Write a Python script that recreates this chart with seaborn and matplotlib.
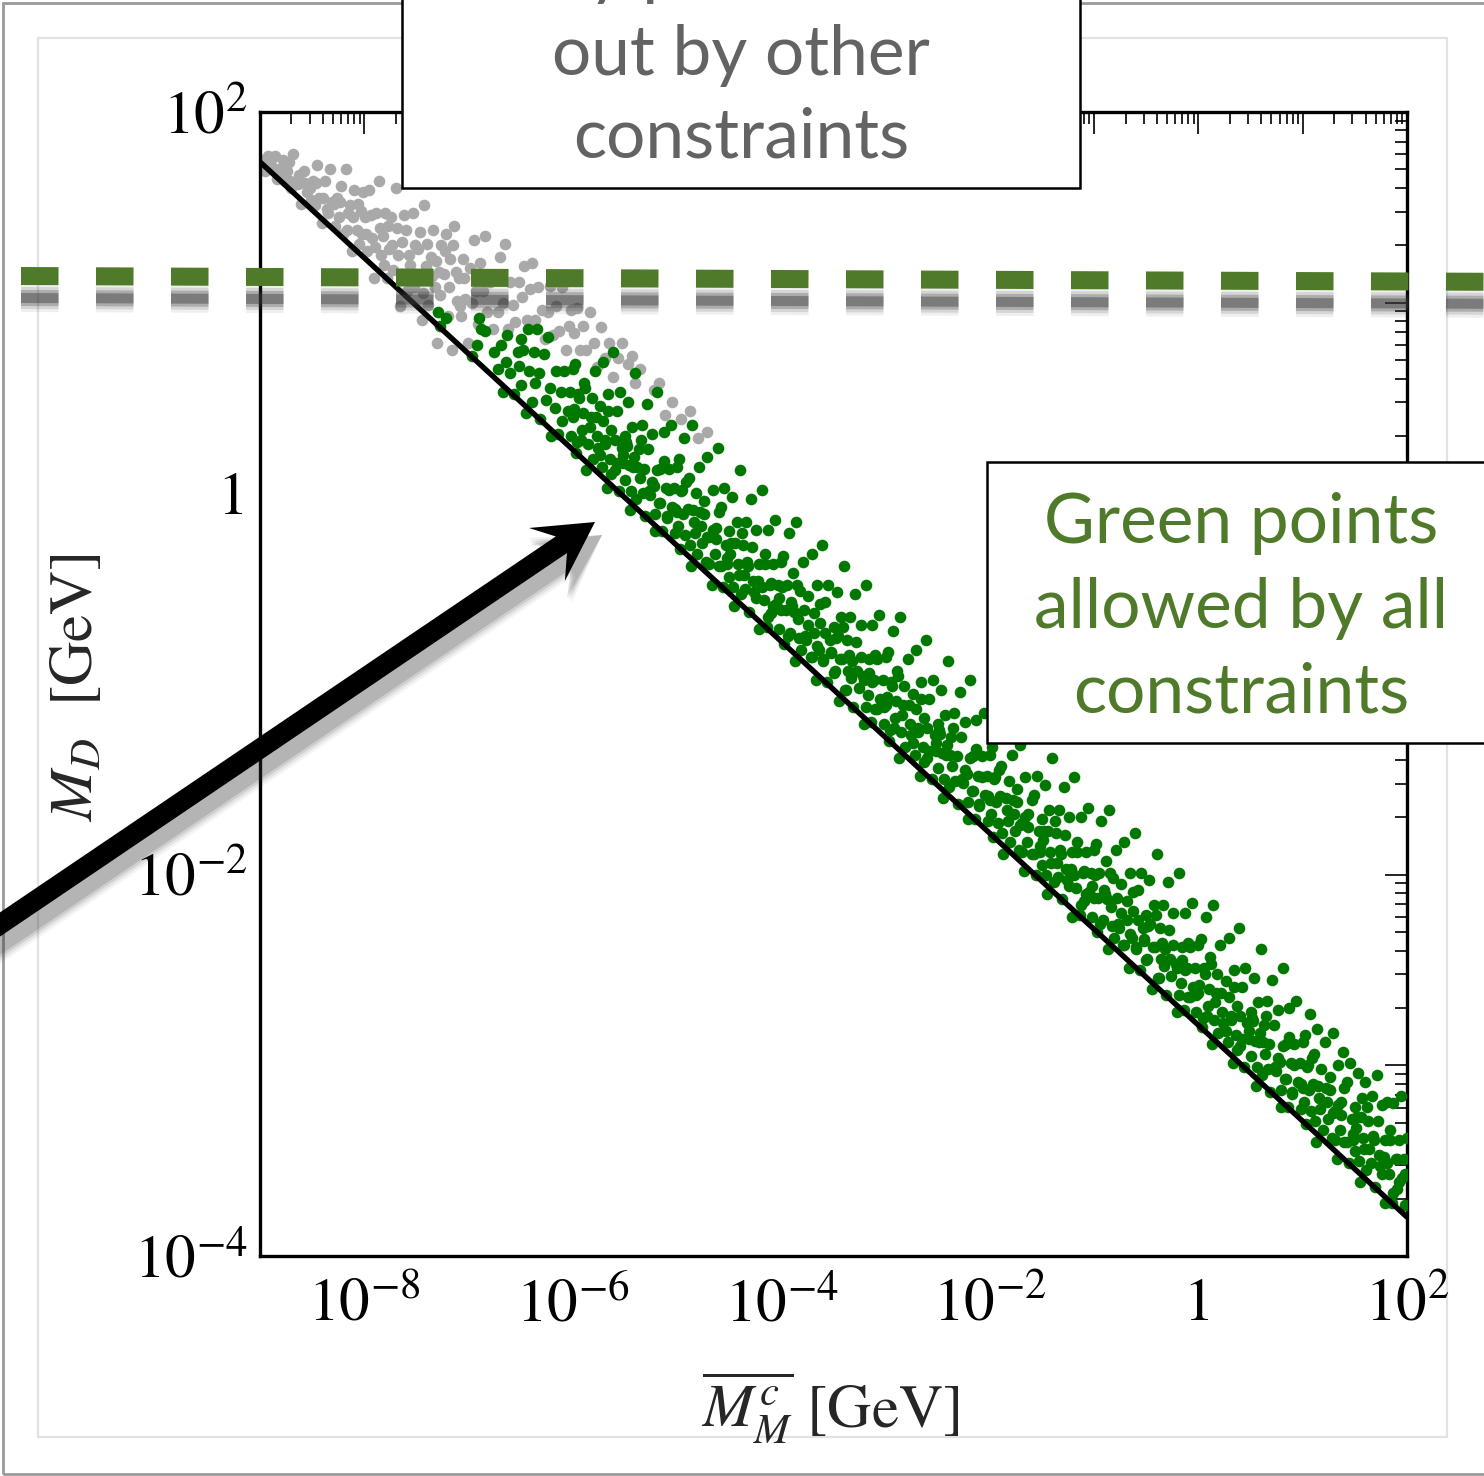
import numpy as np
import pandas as pd
import matplotlib
matplotlib.use("Agg")
import matplotlib.pyplot as plt
import seaborn as sns
from matplotlib.lines import Line2D
from matplotlib.patches import Rectangle, FancyArrow
from matplotlib.transforms import IdentityTransform
from matplotlib.ticker import LogLocator, NullFormatter

W, H = 1484, 1476

# Scan points, stored as (log10 Mbar_M^c, log10 M_D)
gray_pts = [
    (-8.97, 1.75), (-8.95, 1.69), (-8.92, 1.77), (-8.89, 1.72), (-8.86, 1.77), (-8.84, 1.65), (-8.81, 1.70), (-8.78, 1.75), (-8.76, 1.64),
    (-8.74, 1.69), (-8.72, 1.74), (-8.70, 1.60), (-8.68, 1.78), (-8.66, 1.62), (-8.63, 1.67), (-8.61, 1.52), (-8.58, 1.69), (-8.55, 1.58), (-8.52, 1.60),
    (-8.49, 1.64), (-8.47, 1.51), (-8.45, 1.72), (-8.43, 1.55), (-8.41, 1.42), (-8.38, 1.64), (-8.36, 1.49), (-8.33, 1.70), (-8.31, 1.53), (-8.28, 1.40), (-8.26, 1.55),
    (-8.24, 1.45), (-8.22, 1.61), (-8.20, 1.36), (-8.18, 1.70), (-8.16, 1.47), (-8.14, 1.51), (-8.12, 1.27), (-8.10, 1.59), (-8.07, 1.38), (-8.05, 1.31), (-8.03, 1.48), (-8.01, 1.58),
    (-7.99, 1.45), (-7.97, 1.27), (-7.95, 1.59), (-7.93, 1.34), (-7.91, 1.13), (-7.89, 1.47), (-7.86, 1.64), (-7.84, 1.25), (-7.82, 1.35), (-7.80, 1.47), (-7.78, 1.13), (-7.76, 1.28),
    (-7.74, 1.45), (-7.72, 1.17), (-7.70, 1.60), (-7.68, 1.25), (-7.66, 0.98), (-7.64, 1.32), (-7.62, 1.46), (-7.59, 1.06), (-7.57, 1.25), (-7.55, 1.13), (-7.53, 1.47), (-7.51, 1.30),
    (-7.49, 1.12), (-7.47, 1.37), (-7.45, 0.91), (-7.43, 1.51), (-7.41, 1.19), (-7.39, 0.99), (-7.36, 1.24), (-7.34, 1.38), (-7.32, 1.08), (-7.30, 0.79), (-7.28, 1.16), (-7.26, 1.30),
    (-7.24, 1.15), (-7.22, 1.36), (-7.20, 0.93), (-7.18, 1.23), (-7.16, 0.75), (-7.14, 1.40), (-7.11, 1.01), (-7.09, 1.13), (-7.07, 0.93), (-7.05, 1.23), (-7.03, 1.02), (-7.01, 0.79),
    (-6.99, 1.18), (-6.97, 1.00), (-6.95, 1.33), (-6.93, 1.06), (-6.91, 0.89), (-6.89, 1.21), (-6.86, 1.06), (-6.84, 1.35), (-6.82, 0.95), (-6.79, 1.11), (-6.77, 0.86),
    (-6.74, 1.12), (-6.72, 0.95), (-6.70, 1.24), (-6.67, 1.00), (-6.65, 1.31), (-6.62, 0.86), (-6.60, 1.11), (-6.57, 0.99), (-6.55, 0.90), (-6.52, 1.11),
    (-6.49, 1.03), (-6.47, 1.19), (-6.44, 0.91), (-6.41, 1.07), (-6.39, 1.21), (-6.36, 0.91), (-6.33, 1.08), (-6.30, 0.96), (-6.27, 0.81),
    (-6.24, 0.95), (-6.22, 1.09), (-6.19, 0.83), (-6.16, 0.98), (-6.13, 0.85), (-6.10, 1.08), (-6.07, 0.75), (-6.04, 0.88), (-6.02, 0.96),
    (-5.99, 0.84), (-5.96, 0.97), (-5.93, 0.75), (-5.90, 0.88), (-5.87, 0.75), (-5.84, 0.95), (-5.80, 0.79), (-5.77, 0.66),
    (-5.73, 0.87), (-5.69, 0.71), (-5.65, 0.79), (-5.61, 0.61), (-5.57, 0.71), (-5.53, 0.79),
    (-5.47, 0.68), (-5.43, 0.72), (-5.40, 0.58), (-5.36, 0.65),
    (-5.22, 0.54), (-5.17, 0.58), (-5.12, 0.41), (-5.05, 0.48),
    (-4.96, 0.39), (-4.88, 0.43), (-4.80, 0.29), (-4.71, 0.32),
    # denser core of the gray cloud
    (-8.99, 1.72), (-8.93, 1.72), (-8.87, 1.70), (-8.80, 1.67),
    (-8.71, 1.64), (-8.64, 1.62), (-8.57, 1.63), (-8.51, 1.54),
    (-8.46, 1.63), (-8.40, 1.55), (-8.35, 1.47), (-8.29, 1.52),
    (-8.23, 1.53), (-8.17, 1.38), (-8.11, 1.45), (-8.06, 1.52), (-8.02, 1.36),
    (-7.98, 1.36), (-7.94, 1.46), (-7.90, 1.29), (-7.85, 1.39), (-7.81, 1.20), (-7.77, 1.40),
    (-7.73, 1.30), (-7.69, 1.39), (-7.65, 1.15), (-7.60, 1.38), (-7.56, 1.20), (-7.52, 1.08),
    (-7.48, 1.28), (-7.44, 1.05), (-7.40, 1.31), (-7.35, 1.14), (-7.31, 1.22), (-7.27, 1.04),
    (-7.23, 1.27), (-7.19, 1.08), (-7.15, 1.30), (-7.12, 1.16), (-7.08, 0.98), (-7.04, 1.13),
]

green_pts = [
    (-7.29, 0.95), (-7.27, 0.88), (-7.22, 0.92),
    (-6.97, 0.72), (-6.92, 0.78), (-6.90, 0.92), (-6.88, 0.86), (-6.84, 0.85), (-6.76, 0.74),
    (-6.72, 0.65), (-6.69, 0.78), (-6.67, 0.53), (-6.64, 0.69), (-6.63, 0.83), (-6.60, 0.63), (-6.56, 0.52), (-6.53, 0.74), (-6.52, 0.67), (-6.50, 0.81),
    (-6.50, 0.57), (-6.48, 0.75), (-6.45, 0.42), (-6.43, 0.86), (-6.42, 0.64), (-6.39, 0.48), (-6.37, 0.74), (-6.36, 0.58), (-6.34, 0.86), (-6.32, 0.63), (-6.31, 0.39), (-6.28, 0.73), (-6.26, 0.49),
    (-6.24, 0.82), (-6.22, 0.55), (-6.21, 0.30), (-6.17, 0.45), (-6.16, 0.64), (-6.14, 0.31), (-6.11, 0.53), (-6.10, 0.38), (-6.08, 0.64), (-6.05, 0.43), (-6.03, 0.53), (-6.02, 0.30), (-6.00, 0.65),
    (-6.00, 0.40), (-5.98, 0.68), (-5.97, 0.21), (-5.95, 0.52), (-5.92, 0.28), (-5.90, 0.42), (-5.89, 0.58), (-5.87, 0.12), (-5.84, 0.35), (-5.82, 0.50), (-5.81, 0.18), (-5.79, 0.64), (-5.78, 0.40), (-5.76, 0.24),
    (-5.74, 0.46), (-5.72, 0.14), (-5.71, 0.69), (-5.69, 0.28), (-5.67, 0.03), (-5.66, 0.52), (-5.64, 0.18), (-5.63, 0.33), (-5.61, 0.74), (-5.60, 0.12), (-5.58, 0.43), (-5.56, 0.01), (-5.55, 0.53), (-5.53, 0.24), (-5.52, 0.16), (-5.50, 0.30),
    (-5.50, 0.07), (-5.48, 0.25), (-5.47, 0.48), (-5.45, -0.09), (-5.43, 0.35), (-5.42, 0.14), (-5.40, 0.63), (-5.39, -0.03), (-5.37, 0.23), (-5.36, 0.08), (-5.34, 0.36), (-5.32, 0.13), (-5.31, -0.12), (-5.29, 0.47), (-5.28, 0.23), (-5.26, -0.01),
    (-5.24, 0.31), (-5.22, 0.04), (-5.21, -0.20), (-5.19, 0.53), (-5.17, -0.05), (-5.16, 0.13), (-5.14, -0.20), (-5.13, 0.32), (-5.11, 0.03), (-5.10, -0.13), (-5.08, 0.13), (-5.06, 0.36), (-5.05, -0.07), (-5.03, 0.03), (-5.02, -0.21), (-5.00, 0.14),
    (-5.00, -0.10), (-4.98, 0.18), (-4.97, -0.29), (-4.95, 0.02), (-4.93, 0.29), (-4.92, -0.22), (-4.90, -0.08), (-4.89, 0.08), (-4.87, -0.38), (-4.86, 0.36), (-4.84, -0.15), (-4.82, 0.00), (-4.81, -0.32), (-4.79, 0.14), (-4.78, -0.10), (-4.76, -0.26),
    (-4.74, -0.04), (-4.72, -0.36), (-4.71, 0.19), (-4.69, -0.23), (-4.67, -0.48), (-4.66, 0.02), (-4.64, -0.32), (-4.63, -0.18), (-4.61, 0.24), (-4.60, -0.38), (-4.58, -0.07), (-4.56, -0.49), (-4.55, 0.03), (-4.53, -0.27), (-4.52, -0.34), (-4.50, -0.20),
    (-4.50, -0.44), (-4.48, -0.26), (-4.47, -0.02), (-4.45, -0.59), (-4.43, -0.15), (-4.42, -0.37), (-4.40, 0.12), (-4.39, -0.53), (-4.37, -0.27), (-4.36, -0.43), (-4.34, -0.15), (-4.32, -0.38), (-4.31, -0.62), (-4.29, -0.03), (-4.28, -0.28), (-4.26, -0.52),
    (-4.24, -0.19), (-4.22, -0.46), (-4.21, -0.71), (-4.19, 0.02), (-4.17, -0.56), (-4.16, -0.37), (-4.14, -0.70), (-4.13, -0.19), (-4.11, -0.48), (-4.10, -0.63), (-4.08, -0.37), (-4.06, -0.14), (-4.05, -0.58), (-4.03, -0.48), (-4.02, -0.71), (-4.00, -0.36),
    (-4.00, -0.61), (-3.98, -0.33), (-3.97, -0.79), (-3.95, -0.48), (-3.93, -0.21), (-3.92, -0.73), (-3.90, -0.59), (-3.89, -0.42), (-3.87, -0.88), (-3.86, -0.15), (-3.84, -0.66), (-3.82, -0.51), (-3.81, -0.82), (-3.79, -0.36), (-3.78, -0.61), (-3.76, -0.77),
    (-3.74, -0.54), (-3.72, -0.86), (-3.71, -0.32), (-3.69, -0.73), (-3.67, -0.98), (-3.66, -0.48), (-3.64, -0.82), (-3.63, -0.68), (-3.61, -0.27), (-3.60, -0.88), (-3.58, -0.57), (-3.56, -0.99), (-3.55, -0.48), (-3.53, -0.77), (-3.52, -0.84), (-3.50, -0.70),
    (-3.50, -0.94), (-3.48, -0.76), (-3.47, -0.52), (-3.45, -1.09), (-3.43, -0.65), (-3.42, -0.87), (-3.40, -0.38), (-3.39, -1.03), (-3.37, -0.77), (-3.36, -0.93), (-3.34, -0.65), (-3.32, -0.88), (-3.31, -1.12), (-3.29, -0.53), (-3.28, -0.78), (-3.26, -1.02),
    (-3.24, -0.69), (-3.22, -0.96), (-3.21, -1.21), (-3.19, -0.48), (-3.17, -1.06), (-3.16, -0.87), (-3.14, -1.20), (-3.13, -0.69), (-3.11, -0.98), (-3.10, -1.13), (-3.08, -0.87), (-3.06, -0.64), (-3.05, -1.08), (-3.03, -0.98), (-3.02, -1.21), (-3.00, -0.86),
    (-3.00, -1.11), (-2.98, -0.83), (-2.97, -1.30), (-2.95, -0.99), (-2.93, -0.72), (-2.92, -1.23), (-2.90, -1.09), (-2.89, -0.93), (-2.87, -1.39), (-2.86, -0.65), (-2.84, -1.16), (-2.82, -1.01), (-2.81, -1.33), (-2.79, -0.87), (-2.78, -1.11), (-2.76, -1.27),
    (-2.74, -1.05), (-2.72, -1.37), (-2.71, -0.82), (-2.69, -1.23), (-2.67, -1.48), (-2.66, -0.99), (-2.64, -1.33), (-2.63, -1.18), (-2.61, -0.77), (-2.60, -1.39), (-2.58, -1.08), (-2.56, -1.50), (-2.55, -0.98), (-2.53, -1.27), (-2.52, -1.35), (-2.50, -1.21),
    (-2.50, -1.44), (-2.48, -1.26), (-2.47, -1.03), (-2.45, -1.60), (-2.43, -1.16), (-2.42, -1.37), (-2.40, -0.88), (-2.39, -1.54), (-2.37, -1.28), (-2.36, -1.43), (-2.34, -1.15), (-2.32, -1.38), (-2.31, -1.63), (-2.29, -1.04), (-2.28, -1.28), (-2.26, -1.52),
    (-2.24, -1.20), (-2.22, -1.47), (-2.21, -1.71), (-2.19, -0.98), (-2.17, -1.56), (-2.16, -1.38), (-2.14, -1.71), (-2.13, -1.19), (-2.11, -1.48), (-2.10, -1.64), (-2.08, -1.38), (-2.06, -1.15), (-2.05, -1.58), (-2.03, -1.48), (-2.02, -1.72), (-2.00, -1.37),
    (-2.00, -1.61), (-1.98, -1.33), (-1.97, -1.80), (-1.95, -1.49), (-1.93, -1.22), (-1.92, -1.73), (-1.90, -1.59), (-1.89, -1.43), (-1.87, -1.89), (-1.86, -1.15), (-1.84, -1.66), (-1.82, -1.51), (-1.81, -1.83), (-1.79, -1.37), (-1.78, -1.61), (-1.76, -1.77),
    (-1.74, -1.55), (-1.72, -1.87), (-1.71, -1.32), (-1.69, -1.73), (-1.67, -1.98), (-1.66, -1.49), (-1.64, -1.83), (-1.63, -1.68), (-1.61, -1.27), (-1.60, -1.89), (-1.58, -1.58), (-1.56, -2.00), (-1.55, -1.48), (-1.53, -1.77), (-1.52, -1.85), (-1.50, -1.71),
    (-1.50, -1.95), (-1.48, -1.77), (-1.47, -1.53), (-1.45, -2.10), (-1.43, -1.66), (-1.42, -1.88), (-1.40, -1.39), (-1.39, -2.04), (-1.37, -1.78), (-1.36, -1.94), (-1.34, -1.66), (-1.32, -1.89), (-1.31, -2.13), (-1.29, -1.54), (-1.28, -1.79), (-1.26, -2.03),
    (-1.24, -1.70), (-1.22, -1.97), (-1.21, -2.22), (-1.19, -1.49), (-1.17, -2.07), (-1.16, -1.88), (-1.14, -2.21), (-1.13, -1.70), (-1.11, -1.99), (-1.10, -2.14), (-1.08, -1.88), (-1.06, -1.65), (-1.05, -2.09), (-1.03, -1.99), (-1.02, -2.22), (-1.00, -1.87),
    (-1.00, -2.12), (-0.98, -1.84), (-0.97, -2.30), (-0.95, -1.99), (-0.93, -1.72), (-0.92, -2.24), (-0.90, -2.10), (-0.89, -1.93), (-0.87, -2.39), (-0.86, -1.66), (-0.84, -2.17), (-0.82, -2.02), (-0.81, -2.33), (-0.79, -1.87), (-0.78, -2.12), (-0.76, -2.28),
    (-0.74, -2.05), (-0.72, -2.37), (-0.71, -1.83), (-0.69, -2.24), (-0.67, -2.49), (-0.66, -1.99), (-0.64, -2.33), (-0.63, -2.19), (-0.61, -1.78), (-0.60, -2.39), (-0.58, -2.08), (-0.56, -2.50), (-0.55, -1.99), (-0.53, -2.28), (-0.52, -2.35), (-0.50, -2.21),
    (-0.50, -2.45), (-0.48, -2.27), (-0.47, -2.03), (-0.45, -2.60), (-0.43, -2.16), (-0.42, -2.38), (-0.40, -1.89), (-0.39, -2.54), (-0.37, -2.28), (-0.36, -2.44), (-0.34, -2.16), (-0.32, -2.39), (-0.31, -2.63), (-0.29, -2.04), (-0.28, -2.29), (-0.26, -2.53),
    (-0.24, -2.20), (-0.22, -2.47), (-0.21, -2.72), (-0.19, -1.99), (-0.17, -2.57), (-0.16, -2.38), (-0.14, -2.71), (-0.13, -2.20), (-0.11, -2.49), (-0.10, -2.64), (-0.08, -2.38), (-0.06, -2.15), (-0.05, -2.59), (-0.03, -2.49), (-0.02, -2.72), (0.00, -2.37),
    (0.00, -2.62), (0.02, -2.34), (0.03, -2.80), (0.05, -2.49), (0.07, -2.22), (0.08, -2.74), (0.10, -2.60), (0.11, -2.43), (0.13, -2.89), (0.14, -2.16), (0.16, -2.67), (0.18, -2.52), (0.19, -2.83), (0.21, -2.37), (0.22, -2.62), (0.24, -2.78),
    (0.26, -2.56), (0.28, -2.88), (0.29, -2.33), (0.31, -2.74), (0.33, -2.99), (0.34, -2.50), (0.36, -2.84), (0.37, -2.69), (0.39, -2.28), (0.40, -2.90), (0.42, -2.59), (0.44, -3.01), (0.45, -2.49), (0.47, -2.78), (0.48, -2.86), (0.50, -2.72),
    (0.50, -2.95), (0.52, -2.77), (0.53, -2.54), (0.55, -3.11), (0.57, -2.67), (0.58, -2.88), (0.60, -2.39), (0.61, -3.05), (0.63, -2.79), (0.64, -2.94), (0.66, -2.66), (0.68, -2.89), (0.69, -3.14), (0.71, -2.55), (0.72, -2.79), (0.74, -3.03),
    (0.76, -2.71), (0.78, -2.98), (0.79, -3.22), (0.81, -2.49), (0.83, -3.07), (0.84, -2.89), (0.86, -3.22), (0.87, -2.70), (0.89, -2.99), (0.90, -3.15), (0.92, -2.89), (0.94, -2.66), (0.95, -3.09), (0.97, -2.99), (0.98, -3.23), (1.00, -2.88),
    (1.00, -3.12), (1.02, -2.84), (1.03, -3.31), (1.05, -3.00), (1.07, -2.73), (1.08, -3.24), (1.10, -3.10), (1.11, -2.94), (1.13, -3.40), (1.14, -2.81), (1.16, -3.17), (1.18, -3.02), (1.19, -3.34), (1.21, -2.88), (1.22, -3.12), (1.24, -3.28),
    (1.26, -3.06), (1.28, -3.38), (1.29, -2.83), (1.31, -3.24), (1.33, -3.49), (1.34, -3.00), (1.36, -3.34), (1.37, -3.19), (1.39, -2.93), (1.40, -3.40), (1.42, -3.09), (1.44, -3.51), (1.45, -2.99), (1.47, -3.28), (1.48, -3.36), (1.50, -3.22),
    (1.50, -3.45), (1.52, -3.27), (1.53, -3.04), (1.55, -3.61), (1.57, -3.17), (1.58, -3.38), (1.60, -3.09), (1.61, -3.55), (1.63, -3.29), (1.64, -3.44), (1.66, -3.16), (1.68, -3.39), (1.69, -3.64), (1.71, -3.05), (1.72, -3.29), (1.74, -3.53),
    (1.76, -3.21), (1.78, -3.48), (1.79, -3.72), (1.81, -3.19), (1.83, -3.57), (1.84, -3.39), (1.86, -3.72), (1.87, -3.20), (1.89, -3.49), (1.90, -3.65), (1.92, -3.39), (1.94, -3.16), (1.95, -3.59), (1.97, -3.49), (1.98, -3.73), (2.00, -3.38),
]

# extra points in the dense core of the green band
green_core_pts = [
    (-5.99, 0.44), (-5.96, 0.27), (-5.94, 0.50), (-5.91, 0.33), (-5.88, 0.55), (-5.85, 0.26), (-5.83, 0.40), (-5.77, 0.30),
    (-5.74, 0.20), (-5.71, 0.38), (-5.69, 0.26), (-5.66, 0.43), (-5.63, 0.10), (-5.60, 0.28), (-5.58, 0.16), (-5.52, 0.20),
    (-5.49, 0.27), (-5.46, 0.15), (-5.44, 0.01), (-5.41, 0.19), (-5.38, 0.14), (-5.35, 0.28), (-5.33, 0.00), (-5.27, 0.01),
    (-5.24, 0.06), (-5.21, -0.11), (-5.19, 0.12), (-5.16, -0.05), (-5.13, 0.17), (-5.10, -0.12), (-5.08, 0.02), (-5.02, -0.08),
    (-4.99, -0.17), (-4.96, 0.01), (-4.94, -0.11), (-4.91, 0.06), (-4.88, -0.27), (-4.85, -0.09), (-4.83, -0.21), (-4.77, -0.17),
    (-4.74, -0.11), (-4.71, -0.23), (-4.69, -0.37), (-4.66, -0.19), (-4.63, -0.24), (-4.60, -0.10), (-4.58, -0.38), (-4.52, -0.37),
    (-4.49, -0.32), (-4.46, -0.49), (-4.44, -0.26), (-4.41, -0.43), (-4.38, -0.21), (-4.35, -0.50), (-4.33, -0.36), (-4.27, -0.46),
    (-4.24, -0.55), (-4.21, -0.37), (-4.19, -0.49), (-4.16, -0.32), (-4.13, -0.65), (-4.10, -0.47), (-4.08, -0.59), (-4.02, -0.55),
    (-3.99, -0.49), (-3.96, -0.61), (-3.94, -0.75), (-3.91, -0.57), (-3.88, -0.62), (-3.85, -0.48), (-3.83, -0.76), (-3.77, -0.75),
    (-3.74, -0.69), (-3.71, -0.86), (-3.69, -0.63), (-3.66, -0.80), (-3.63, -0.58), (-3.60, -0.87), (-3.58, -0.73), (-3.52, -0.83),
    (-3.49, -0.93), (-3.46, -0.75), (-3.44, -0.87), (-3.41, -0.70), (-3.38, -1.03), (-3.35, -0.85), (-3.33, -0.97), (-3.27, -0.93),
    (-3.24, -0.86), (-3.21, -0.98), (-3.19, -1.12), (-3.16, -0.94), (-3.13, -0.99), (-3.10, -0.85), (-3.08, -1.13), (-3.02, -1.12),
    (-2.99, -1.07), (-2.96, -1.24), (-2.94, -1.01), (-2.91, -1.18), (-2.88, -0.96), (-2.85, -1.25), (-2.83, -1.11), (-2.77, -1.21),
    (-2.74, -1.31), (-2.71, -1.13), (-2.69, -1.25), (-2.66, -1.08), (-2.63, -1.41), (-2.60, -1.23), (-2.58, -1.35), (-2.52, -1.31),
    (-2.49, -1.24), (-2.46, -1.36), (-2.44, -1.50), (-2.41, -1.32), (-2.38, -1.37), (-2.35, -1.23), (-2.33, -1.51), (-2.27, -1.50),
    (-2.24, -1.45), (-2.21, -1.62), (-2.19, -1.39), (-2.16, -1.56), (-2.13, -1.34), (-2.10, -1.63), (-2.08, -1.49), (-2.02, -1.59),
    (-1.99, -1.68), (-1.96, -1.50), (-1.94, -1.62), (-1.91, -1.45), (-1.88, -1.78), (-1.85, -1.60), (-1.83, -1.72), (-1.77, -1.68),
    (-1.74, -1.62), (-1.71, -1.74), (-1.69, -1.88), (-1.66, -1.70), (-1.63, -1.75), (-1.60, -1.61), (-1.58, -1.89), (-1.52, -1.88),
    (-1.49, -1.82), (-1.46, -2.00), (-1.44, -1.77), (-1.41, -1.94), (-1.38, -1.72), (-1.35, -2.01), (-1.33, -1.87), (-1.27, -1.97),
    (-1.24, -2.06), (-1.21, -1.88), (-1.19, -2.00), (-1.16, -1.83), (-1.13, -2.16), (-1.10, -1.98), (-1.08, -2.10), (-1.02, -2.06),
    (-0.99, -2.00), (-0.96, -2.12), (-0.94, -2.26), (-0.91, -2.08), (-0.88, -2.13), (-0.85, -1.99), (-0.83, -2.27), (-0.77, -2.26),
    (-0.74, -2.20), (-0.71, -2.37), (-0.69, -2.14), (-0.66, -2.31), (-0.63, -2.09), (-0.60, -2.38), (-0.58, -2.24), (-0.52, -2.34),
    (-0.49, -2.44), (-0.46, -2.26), (-0.44, -2.38), (-0.41, -2.21), (-0.38, -2.54), (-0.35, -2.36), (-0.33, -2.48), (-0.27, -2.44),
    (-0.24, -2.37), (-0.21, -2.49), (-0.19, -2.63), (-0.16, -2.45), (-0.13, -2.50), (-0.10, -2.36), (-0.08, -2.64), (-0.02, -2.63),
    (0.01, -2.58), (0.04, -2.75), (0.06, -2.52), (0.09, -2.69), (0.12, -2.47), (0.15, -2.76), (0.17, -2.62), (0.23, -2.72),
    (0.26, -2.82), (0.29, -2.64), (0.31, -2.76), (0.34, -2.59), (0.37, -2.92), (0.40, -2.74), (0.42, -2.86), (0.48, -2.82),
    (0.51, -2.75), (0.54, -2.87), (0.56, -3.01), (0.59, -2.83), (0.62, -2.88), (0.65, -2.74), (0.67, -3.02), (0.73, -3.01),
    (0.76, -2.96), (0.79, -3.13), (0.81, -2.90), (0.84, -3.07), (0.87, -2.85), (0.90, -3.14), (0.92, -3.00), (0.98, -3.10),
    (1.01, -3.19), (1.04, -3.01), (1.06, -3.13), (1.09, -2.96), (1.12, -3.29), (1.15, -3.11), (1.17, -3.23), (1.23, -3.19),
    (1.26, -3.13), (1.29, -3.25), (1.31, -3.39), (1.34, -3.21), (1.37, -3.26), (1.40, -3.12), (1.42, -3.40), (1.48, -3.39),
    (1.51, -3.33), (1.54, -3.50), (1.56, -3.27), (1.59, -3.44), (1.62, -3.22), (1.65, -3.51), (1.67, -3.37), (1.73, -3.47),
    (1.76, -3.57), (1.79, -3.39), (1.81, -3.51), (1.84, -3.34), (1.87, -3.67), (1.90, -3.49), (1.92, -3.61), (1.98, -3.57),
]

# black reference line (end points at the axis edges)
line_x = [1e-9, 1e2]
line_y = [54.7, 1.6e-4]

x_major = [1e-9, 1e-8, 1e-7, 1e-6, 1e-5, 1e-4, 1e-3, 1e-2, 1e-1, 1, 1e1, 1e2]
x_labels = ["", r"$10^{-8}$", "", r"$10^{-6}$", "", r"$10^{-4}$", "", r"$10^{-2}$", "", "1", "", r"$10^{2}$"]
y_major = [1e-4, 1e-3, 1e-2, 1e-1, 1, 1e1, 1e2]
y_labels = [r"$10^{-4}$", "", r"$10^{-2}$", "", "1", "", r"$10^{2}$"]

top_box_lines = ["Gray points ruled", "out by other", "constraints"]
right_box_lines = ["Green points", "allowed by all", "constraints"]

GRAY = "#a9a9a9"
GREEN = "#007800"
OLIVE = "#4f7a29"
TEXT_GRAY = "#636363"
DOT_SIZE = 70  # pt^2


def fx(px):
    return px / W


def fy(py):
    return 1 - py / H


sns.set_theme(style="white")
plt.rcParams["font.family"] = ["STIXGeneral", "DejaVu Serif"]
plt.rcParams["mathtext.fontset"] = "stix"
plt.rcParams["lines.scale_dashes"] = False

fig = plt.figure(figsize=(W / 100, H / 100), dpi=100)
fig.patch.set_facecolor("white")

# slide frame
fig.add_artist(Rectangle((fx(3), fy(1474)), fx(1600), (1474 - 3) / H, fill=False,
                         edgecolor="#9a9a9a", lw=2.0, transform=fig.transFigure, zorder=0))
fig.add_artist(Rectangle((fx(38), fy(1437)), fx(1447 - 38), (1437 - 38) / H, fill=False,
                         edgecolor="#e2e2e2", lw=1.6, transform=fig.transFigure, zorder=0))

ax = fig.add_axes([fx(260), fy(1256), (1407 - 260) / W, (1256 - 112) / H])
ax.set_facecolor("white")

gray = pd.DataFrame(gray_pts, columns=["lx", "ly"])
green = pd.DataFrame(green_pts + green_core_pts, columns=["lx", "ly"])
for df in (gray, green):
    df["x"] = 10 ** df["lx"]
    df["y"] = 10 ** df["ly"]

sns.scatterplot(data=gray, x="x", y="y", color=GRAY, s=DOT_SIZE, linewidth=0, ax=ax, zorder=2, legend=False)
sns.scatterplot(data=green, x="x", y="y", color=GREEN, s=DOT_SIZE, linewidth=0, ax=ax, zorder=3, legend=False)
sns.lineplot(x=line_x, y=line_y, color="black", linewidth=3.9, ax=ax, zorder=4)

ax.set_xscale("log")
ax.set_yscale("log")
ax.set_xlim(1e-9, 1e2)
ax.set_ylim(1e-4, 1e2)

ax.set_xticks(x_major)
ax.set_xticklabels(x_labels)
ax.set_yticks(y_major)
ax.set_yticklabels(y_labels)
ax.xaxis.set_minor_locator(LogLocator(base=10, subs=np.arange(2, 10), numticks=200))
ax.yaxis.set_minor_locator(LogLocator(base=10, subs=np.arange(2, 10), numticks=200))
ax.xaxis.set_minor_formatter(NullFormatter())
ax.yaxis.set_minor_formatter(NullFormatter())

ax.tick_params(which="both", direction="in", top=True, right=True, color="black", width=1.2)
ax.tick_params(which="major", length=16, labelsize=44, labelcolor="black")
ax.tick_params(which="minor", length=8.5)
ax.tick_params(axis="x", which="major", pad=16)
ax.tick_params(axis="y", which="major", pad=9)
for sp in ax.spines.values():
    sp.set_linewidth(2.4)
    sp.set_color("black")

ax.set_xlabel(r"$\overline{M_M^c}$ [GeV]", fontsize=44, ha="center", va="center")
ax.xaxis.set_label_coords(0.497, -0.132)
ax.set_ylabel(r"$M_D$  [GeV]", fontsize=44, ha="center", va="center")
ax.yaxis.set_label_coords(-0.1587, 0.4965)

# dashed bound with its blurred drop shadow
dash = (0, (27.0, 27.0))
for lw_px, a in [(28, 0.08), (22, 0.14), (16, 0.26), (10, 0.42)]:
    fig.add_artist(Line2D([fx(21), fx(1540)], [fy(298), fy(304)], transform=fig.transFigure,
                          color="#383838", alpha=a, lw=lw_px * 0.72, linestyle=dash,
                          dash_capstyle="butt", zorder=5))
fig.add_artist(Line2D([fx(21), fx(1540)], [fy(276), fy(282)], transform=fig.transFigure,
                      color=OLIVE, lw=18 * 0.72, linestyle=dash, dash_capstyle="butt", zorder=6))

# arrow with soft shadow (pixel coordinates)
ident = IdentityTransform()
tail_x, tail_y = -20, H - 938
vx, vy = 615, 416
for k, a in enumerate([0.05, 0.08, 0.12, 0.16]):
    fig.add_artist(FancyArrow(tail_x + 7, tail_y - 13, vx, vy, width=36 - 5 * k, head_width=80 - 5 * k,
                              head_length=64, length_includes_head=True, overhang=0.3,
                              color="#303030", alpha=a, lw=0, transform=ident, zorder=7))
fig.add_artist(FancyArrow(tail_x, tail_y, vx, vy, width=20, head_width=64, head_length=58,
                          length_includes_head=True, overhang=0.3, color="black", lw=0,
                          transform=ident, zorder=8))

# text boxes
fig.add_artist(Rectangle((fx(402), fy(188)), (1080 - 402) / W, 210 / H, facecolor="white",
                         edgecolor="black", lw=1.8, transform=fig.transFigure, zorder=9))
for line, base in zip(top_box_lines, [-8, 75, 158]):
    fig.text(fx(741), fy(base), line, ha="center", va="baseline", fontsize=50,
             family="Lato", color=TEXT_GRAY, zorder=10)

fig.add_artist(Rectangle((fx(987), fy(743)), (1600 - 987) / W, (743 - 462) / H, facecolor="white",
                         edgecolor="black", lw=1.8, transform=fig.transFigure, zorder=9))
for line, base in zip(right_box_lines, [543, 628, 713]):
    fig.text(fx(1241), fy(base), line, ha="center", va="baseline", fontsize=50,
             family="Lato", color=OLIVE, zorder=10)

fig.savefig("out.png", dpi=100)
plt.close(fig)
